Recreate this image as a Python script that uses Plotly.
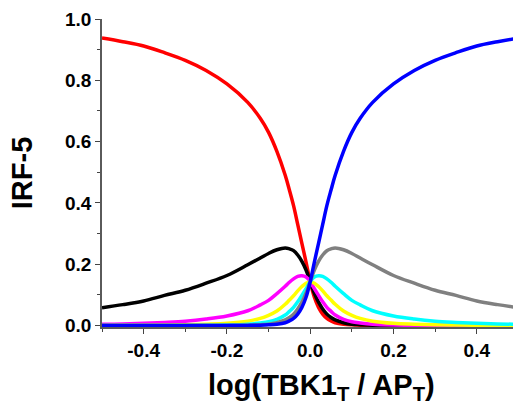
import plotly.graph_objects as go

# x positions (log(TBK1_T / AP_T))
x_vals = [-0.50, -0.45, -0.40, -0.35, -0.30, -0.25, -0.20, -0.15, -0.12, -0.10,
          -0.08, -0.06, -0.05, -0.04, -0.03, -0.02, -0.01, 0.00,
          0.01, 0.02, 0.03, 0.04, 0.05, 0.06, 0.08, 0.10, 0.12, 0.15,
          0.20, 0.25, 0.30, 0.35, 0.40, 0.45, 0.50]

red = [0.938, 0.926, 0.912, 0.890, 0.865, 0.832, 0.788, 0.728, 0.676, 0.630,
       0.568, 0.490, 0.442, 0.391, 0.330, 0.268, 0.207, 0.143,
       0.092, 0.059, 0.037, 0.023, 0.015, 0.009, 0.004, 0.002, 0.0008, 0.0003,
       0.0001, 0.0, 0.0, 0.0, 0.0, 0.0, 0.0]

black = [0.058, 0.068, 0.080, 0.098, 0.115, 0.138, 0.163, 0.198, 0.220, 0.235,
         0.247, 0.253, 0.250, 0.244, 0.230, 0.209, 0.181, 0.143,
         0.105, 0.076, 0.054, 0.037, 0.026, 0.018, 0.009, 0.004, 0.0025, 0.001,
         0.0003, 0.0001, 0.0, 0.0, 0.0, 0.0, 0.0]

magenta = [0.004, 0.005, 0.007, 0.010, 0.014, 0.021, 0.031, 0.048, 0.067, 0.082,
           0.104, 0.128, 0.141, 0.152, 0.160, 0.162, 0.158, 0.143,
           0.120, 0.098, 0.077, 0.059, 0.046, 0.034, 0.020, 0.012, 0.008, 0.004,
           0.0015, 0.0007, 0.0003, 0.0001, 0.0001, 0.0, 0.0]

yellow = [0.0002, 0.0004, 0.0006, 0.0012, 0.002, 0.004, 0.007, 0.014, 0.023, 0.033,
          0.047, 0.069, 0.083, 0.097, 0.113, 0.127, 0.138, 0.143,
          0.138, 0.127, 0.113, 0.097, 0.083, 0.069, 0.047, 0.033, 0.023, 0.014,
          0.007, 0.004, 0.002, 0.0012, 0.0006, 0.0004, 0.0002]

cyan = [0.0, 0.0, 0.0001, 0.0001, 0.0003, 0.0007, 0.0015, 0.004, 0.008, 0.012,
        0.020, 0.034, 0.046, 0.059, 0.077, 0.098, 0.120, 0.143,
        0.158, 0.162, 0.160, 0.152, 0.141, 0.128, 0.104, 0.082, 0.067, 0.048,
        0.031, 0.021, 0.014, 0.010, 0.007, 0.005, 0.004]

gray = [0.0, 0.0, 0.0, 0.0, 0.0, 0.0001, 0.0003, 0.001, 0.0025, 0.004,
        0.009, 0.018, 0.026, 0.037, 0.054, 0.076, 0.105, 0.143,
        0.181, 0.209, 0.230, 0.244, 0.250, 0.253, 0.247, 0.235, 0.220, 0.198,
        0.163, 0.138, 0.115, 0.098, 0.080, 0.068, 0.058]

blue = [0.0, 0.0, 0.0, 0.0, 0.0, 0.0, 0.0001, 0.0003, 0.0008, 0.002,
        0.004, 0.009, 0.015, 0.023, 0.037, 0.059, 0.092, 0.143,
        0.207, 0.268, 0.330, 0.391, 0.442, 0.490, 0.568, 0.630, 0.676, 0.728,
        0.788, 0.832, 0.865, 0.890, 0.912, 0.926, 0.938]

series = [
    ("red", red, "#ff0000"),
    ("black", black, "#000000"),
    ("magenta", magenta, "#ff00ff"),
    ("yellow", yellow, "#ffff00"),
    ("cyan", cyan, "#00ffff"),
    ("gray", gray, "#808080"),
    ("blue", blue, "#0000ff"),
]

x_tickvals = [-0.4, -0.2, 0.0, 0.2, 0.4]
x_ticktext = ["-0.4", "-0.2", "0.0", "0.2", "0.4"]
y_tickvals = [0.0, 0.2, 0.4, 0.6, 0.8, 1.0]
y_ticktext = ["0.0", "0.2", "0.4", "0.6", "0.8", "1.0"]
x_title = "log(TBK1<sub>T</sub> / AP<sub>T</sub>)"
y_title = "IRF-5"

fig = go.Figure()
for name, ys, col in series:
    fig.add_trace(go.Scatter(
        x=x_vals, y=ys, mode="lines", name=name,
        line=dict(color=col, width=3.5, shape="spline", smoothing=1.0),
        showlegend=False, hoverinfo="skip",
    ))

FAM = "Liberation Sans, Arial, sans-serif"
tick_font = dict(family=FAM, size=19, color="#000000", weight="bold")

fig.update_layout(
    width=513, height=412,
    margin=dict(l=102, r=0, t=19, b=85),
    paper_bgcolor="white", plot_bgcolor="white",
    font=dict(family=FAM, color="#000000"),
)
fig.update_xaxes(
    range=[-0.5, 0.487], showgrid=False, zeroline=False,
    showline=True, linecolor="#5a5a5a", linewidth=1.5,
    ticks="outside", ticklen=5, tickwidth=1.2, tickcolor="#444444",
    tickvals=x_tickvals, ticktext=x_ticktext, tickfont=tick_font,
    minor=dict(dtick=0.1, tick0=0, ticks="outside", ticklen=3, tickwidth=1, tickcolor="#444444"),
)
fig.update_yaxes(
    range=[-0.005, 1.0], showgrid=False, zeroline=False,
    showline=True, linecolor="#5a5a5a", linewidth=1.5,
    ticks="outside", ticklen=5, tickwidth=1.2, tickcolor="#444444",
    tickvals=y_tickvals, ticktext=y_ticktext, tickfont=tick_font,
    minor=dict(dtick=0.1, tick0=0, ticks="outside", ticklen=3, tickwidth=1, tickcolor="#444444"),
    title=dict(text=y_title, font=dict(family=FAM, size=29, color="#000000", weight="bold"),
               standoff=24),
)
fig.add_annotation(
    text=x_title, xref="paper", yref="paper", x=0.535, y=-0.195,
    xanchor="center", yanchor="middle", showarrow=False,
    font=dict(family=FAM, size=29, color="#000000", weight="bold"),
)

fig.write_html("out.html", config={"displayModeBar": False},
               post_script="document.body.style.margin='0';document.body.style.overflow='hidden';")
